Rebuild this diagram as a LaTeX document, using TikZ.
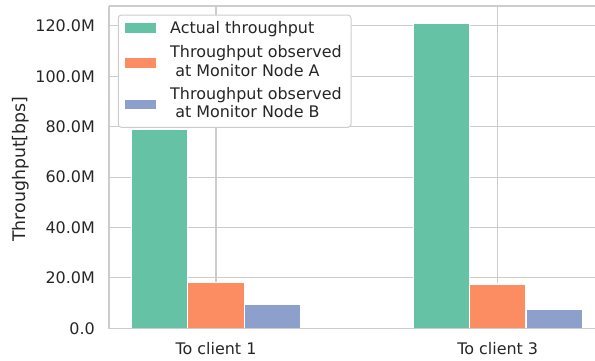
\documentclass[tikz,border=0pt]{standalone}
\usepackage{fontspec}
\setmainfont{DejaVu Sans}
\definecolor{cgreen}{HTML}{66C2A5}
\definecolor{corange}{HTML}{FC8D62}
\definecolor{cblue}{HTML}{8DA0CB}
\definecolor{cgrid}{HTML}{CCCCCC}
\definecolor{ctext}{HTML}{262626}
\tikzset{
  gridline/.style={draw=cgrid, line width=1.1bp},
  spine/.style={draw=cgrid, line width=1.3bp},
  barbox/.style={draw=white, line width=1.2bp},
  txt/.style={inner sep=0pt, text=ctext, font=\fontsize{16}{19}\selectfont},
  ylab/.style={inner sep=0pt, text=ctext, font=\fontsize{17.4}{20}\selectfont},
  legframe/.style={draw=cgrid, fill=white, line width=1bp, rounded corners=3bp},
}
\begin{document}
\begin{tikzpicture}[x=1bp,y=-1bp]
\useasboundingbox (0,0) rectangle (595,360);
% grid
\foreach \yy in {277.9,227.5,177.1,126.7,76.3,25.9} {
  \draw[gridline] (109,\yy) -- (595,\yy);
}
\draw[gridline] (216,6) -- (216,328.3);
\draw[gridline] (497.7,6) -- (497.7,328.3);
% bars group 1
\path[barbox, fill=cgreen]  (131.5,328.3) rectangle (187.8,129.2);
\path[barbox, fill=corange] (187.8,328.3) rectangle (244.2,282.7);
\path[barbox, fill=cblue]   (244.2,328.3) rectangle (300.5,304.4);
% bars group 2
\path[barbox, fill=cgreen]  (413.2,328.3) rectangle (469.5,22.9);
\path[barbox, fill=corange] (469.5,328.3) rectangle (525.9,283.9);
\path[barbox, fill=cblue]   (525.9,328.3) rectangle (582.2,309.7);
% spines
\draw[spine] (109,6) -- (595,6);
\draw[spine] (109,6) -- (109,328.3) -- (595,328.3);
% y tick labels
\node[txt, anchor=base east] (t0) at (95,334.1) {0.0};
\node[txt, anchor=base east] (t20) at (95,283.7) {20.0M};
\node[txt, anchor=base east] (t40) at (95,233.3) {40.0M};
\node[txt, anchor=base east] (t60) at (95,182.9) {60.0M};
\node[txt, anchor=base east] (t80) at (95,132.5) {80.0M};
\node[txt, anchor=base east] (t100) at (95,82.1) {100.0M};
\node[txt, anchor=base east] (t120) at (95,31.7) {120.0M};
% x tick labels
\node[txt, anchor=base] (c1) at (216,354) {To client 1};
\node[txt, anchor=base] (c3) at (497.7,354) {To client 3};
% y label
\node[ylab, anchor=base, rotate=90] (ylabel) at (25,169.3) {Throughput[bps]};
% legend
\path[legframe] (118.3,15) rectangle (351,127.3);
\fill[cgreen]  (125,23.3) rectangle (156,32.7);
\fill[corange] (125,58.3) rectangle (156,67.7);
\fill[cblue]   (125,100) rectangle (156,109.3);
\node[txt, anchor=base west] (l1) at (170,33.4) {Actual throughput};
\node[txt, anchor=base west] (l2a) at (170,57.7) {Throughput observed};
\node[txt, anchor=base west] (l2b) at (170,76.2) {\mbox{}\ at Monitor Node A};
\node[txt, anchor=base west] (l3a) at (170,99.1) {Throughput observed};
\node[txt, anchor=base west] (l3b) at (170,117.6) {\mbox{}\ at Monitor Node B};
\end{tikzpicture}
\end{document}
